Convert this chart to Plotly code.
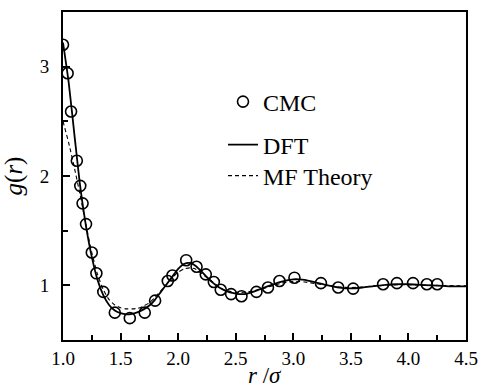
import plotly.graph_objects as go

# CMC simulation points
cmc_r = [1.00, 1.04, 1.07, 1.12, 1.15, 1.17, 1.20, 1.25, 1.29, 1.35, 1.45, 1.58, 1.71, 1.80,
         1.91, 1.95, 2.07, 2.16, 2.24, 2.31, 2.37, 2.46, 2.55, 2.68, 2.78, 2.88, 3.01,
         3.24, 3.39, 3.52, 3.78, 3.90, 4.04, 4.16, 4.25]
cmc_g = [3.20, 2.94, 2.59, 2.14, 1.91, 1.75, 1.56, 1.30, 1.11, 0.94, 0.75, 0.70, 0.75, 0.86,
         1.04, 1.09, 1.23, 1.17, 1.10, 1.03, 0.96, 0.92, 0.90, 0.94, 0.98, 1.04, 1.07,
         1.02, 0.98, 0.97, 1.01, 1.02, 1.02, 1.01, 1.01]

# DFT curve
dft_r = [1.00, 1.05, 1.10, 1.15, 1.20, 1.25, 1.30, 1.35, 1.40, 1.45, 1.50, 1.55, 1.60, 1.65,
         1.70, 1.75, 1.80, 1.85, 1.90, 1.95, 2.00, 2.05, 2.10, 2.15, 2.20, 2.25, 2.30, 2.35,
         2.40, 2.45, 2.50, 2.55, 2.60, 2.65, 2.70, 2.80, 2.90, 3.00, 3.05, 3.10, 3.20, 3.30,
         3.40, 3.50, 3.60, 3.70, 3.80, 3.90, 4.00, 4.10, 4.20, 4.30, 4.40, 4.50]
dft_g = [3.22, 2.85, 2.37, 1.90, 1.54, 1.26, 1.05, 0.91, 0.82, 0.77, 0.745, 0.735, 0.74, 0.755,
         0.78, 0.815, 0.87, 0.94, 1.01, 1.08, 1.15, 1.195, 1.205, 1.18, 1.13, 1.075, 1.025, 0.985,
         0.955, 0.935, 0.925, 0.92, 0.925, 0.94, 0.96, 1.00, 1.035, 1.055, 1.055, 1.05, 1.025, 1.00,
         0.98, 0.972, 0.98, 0.993, 1.005, 1.01, 1.01, 1.005, 1.00, 0.995, 0.99, 0.99]

# Mean-field theory curve
mf_r = [1.00, 1.05, 1.10, 1.15, 1.20, 1.25, 1.30, 1.35, 1.40, 1.45, 1.50, 1.55, 1.60, 1.65,
        1.70, 1.75, 1.80, 1.85, 1.90, 1.95, 2.00, 2.05, 2.10, 2.15, 2.20, 2.25, 2.30, 2.35,
        2.40, 2.45, 2.50, 2.55, 2.60, 2.70, 2.80, 2.90, 3.00, 3.05, 3.10, 3.20, 3.30, 3.40,
        3.50, 3.60, 3.70, 3.80, 3.90, 4.00, 4.20, 4.50]
mf_g = [2.50, 2.30, 2.07, 1.82, 1.55, 1.30, 1.10, 0.96, 0.87, 0.82, 0.795, 0.785, 0.785, 0.79,
        0.81, 0.84, 0.89, 0.95, 1.01, 1.07, 1.12, 1.15, 1.16, 1.15, 1.11, 1.07, 1.03, 0.99,
        0.96, 0.945, 0.935, 0.935, 0.94, 0.96, 0.99, 1.02, 1.035, 1.035, 1.03, 1.015, 1.00, 0.985,
        0.98, 0.985, 0.995, 1.00, 1.005, 1.005, 1.00, 0.995]

x_ticks = [1.0, 1.5, 2.0, 2.5, 3.0, 3.5, 4.0, 4.5]
y_ticks = [1, 2, 3]

FONT = "Liberation Serif, Times New Roman, serif"

fig = go.Figure()
fig.add_trace(go.Scatter(x=dft_r, y=dft_g, mode="lines", name="DFT",
                         line=dict(color="black", width=1.8, shape="spline", smoothing=0.6),
                         legend="legend2", showlegend=True))
fig.add_trace(go.Scatter(x=mf_r, y=mf_g, mode="lines", name="MF Theory",
                         line=dict(color="black", width=1.1, dash="4px,3px", shape="spline", smoothing=0.6),
                         legend="legend3", showlegend=True))
fig.add_trace(go.Scatter(x=cmc_r, y=cmc_g, mode="markers", name="CMC",
                         marker=dict(symbol="circle-open", size=11, color="black",
                                     line=dict(width=1.6, color="black")),
                         legend="legend", showlegend=True))

leg = dict(x=0.397, xanchor="left", yanchor="middle",
           bgcolor="rgba(0,0,0,0)", font=dict(size=24, family=FONT))

fig.update_layout(
    width=479, height=387,
    showlegend=True,
    margin=dict(l=63, r=13, t=12, b=47),
    paper_bgcolor="white", plot_bgcolor="white",
    font=dict(family=FONT, color="black", size=18),
    legend=dict(leg, y=0.7256),
    legend2=dict(leg, y=0.5945),
    legend3=dict(leg, y=0.50),
    annotations=[dict(text="<i>r</i> /<i>σ</i>", xref="paper", yref="paper",
                      x=0.5, y=-0.107, xanchor="center", yanchor="middle",
                      showarrow=False, font=dict(size=23, family=FONT))],
)
fig.update_xaxes(
    range=[1.0, 4.5], tickvals=x_ticks, ticktext=[f"{v:.1f}" for v in x_ticks],
    ticks="inside", ticklen=7, tickwidth=1.5, tickcolor="black",
    minor=dict(dtick=0.25, tick0=1.0, ticks="inside", ticklen=5, tickwidth=1.5, tickcolor="black"),
    showline=True, linewidth=2, linecolor="black", mirror=True,
    showgrid=False, zeroline=False, automargin=False,
    tickfont=dict(size=19, family=FONT),
)
fig.update_yaxes(
    range=[0.5, 3.5], tickvals=y_ticks, ticktext=[str(v) for v in y_ticks],
    ticks="inside", ticklen=7, tickwidth=1.5, tickcolor="black",
    minor=dict(dtick=0.5, tick0=0.5, ticks="inside", ticklen=5, tickwidth=1.5, tickcolor="black"),
    showline=True, linewidth=2, linecolor="black", mirror=True,
    showgrid=False, zeroline=False, automargin=False,
    ticklabelstandoff=8,
    tickfont=dict(size=19, family=FONT),
    title=dict(text="<i>g</i>(<i>r</i>)", font=dict(size=25, family=FONT), standoff=10),
)

# remove the browser's default 8px page margin so the 479x387 figure fills the window
fig.write_html("out.html", config={"displayModeBar": False},
               post_script="document.body.style.margin='0';document.body.style.overflow='hidden';")
